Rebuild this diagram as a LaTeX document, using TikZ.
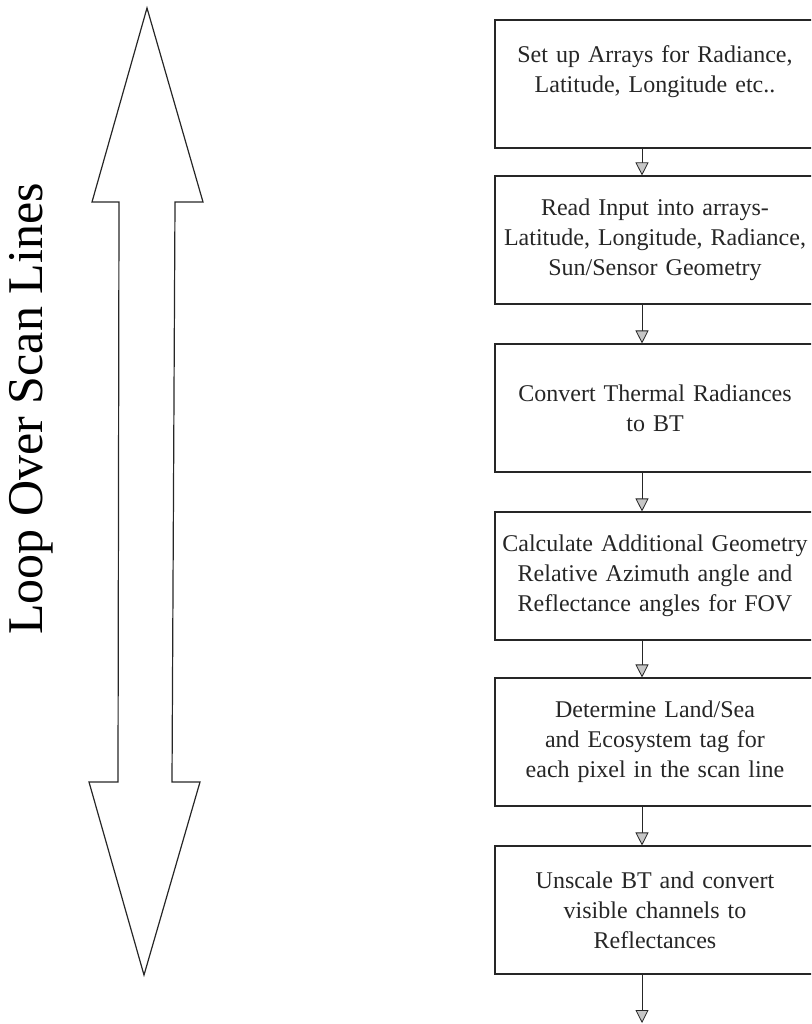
\documentclass[tikz,border=0pt]{standalone}
\usepackage{fontspec}
\setmainfont{Liberation Serif}
\usetikzlibrary{
    arrows.meta,
    positioning
}
\tikzset{
    % Colors
    line color/.style={black!85},
    %
    % Boxes
    stepbox/.style={draw,line color,line width=1.1pt,minimum width=320pt,minimum height=128pt,
        text width=316pt,align=center,font=\fontsize{24}{30}\selectfont},
    %
    % Arrows
    arrow tip/.tip={Triangle[width=13pt,length=13pt,fill=gray!45]},
    arr/.style={-{arrow tip},line color,line width=0.8pt},
    big arrow/.style={line color,line width=1.2pt,line join=miter}
}
\tikzstyle{every node}=[inner sep=0pt]

\begin{document}
\begin{tikzpicture}[x=1pt,y=-1pt]
    \useasboundingbox (0,0) rectangle (811,1024);
    \clip (0,0) rectangle (811,1024);
    % double arrow
    \draw[big arrow] (147,8) -- (203,202) -- (175,202) -- (172,782) -- (200,782) -- (144,975)
        -- (89,782) -- (118,782) -- (119,202) -- (92,202) -- cycle;
    \node[rotate=90,font=\fontsize{50}{50}\selectfont] (loop) at (31,409) {Loop Over Scan Lines};
    % flow chart
    \coordinate (ax) at (642,0);
    \node[stepbox] (b1) at (655,84) {Set up Arrays for Radiance,\\ Latitude, Longitude etc..\\ \mbox{}};
    \node[stepbox] (b2) at (655,240) {Read Input into arrays-\\ Latitude, Longitude, Radiance,\\ Sun/Sensor Geometry};
    \node[stepbox] (b3) at (655,408) {Convert Thermal Radiances\\ to BT};
    \node[stepbox] (b4) at (655,576) {Calculate Additional Geometry\\ Relative Azimuth angle and\\ Reflectance angles for FOV};
    \node[stepbox] (b5) at (655,742) {Determine Land/Sea\\ and Ecosystem tag for\\ each pixel in the scan line};
    \node[stepbox] (b6) at (655,910) {Unscale BT and convert\\ visible channels to\\ Reflectances};
    \coordinate (end) at (642,1023);
    \foreach \a/\b in {b1/b2,b2/b3,b3/b4,b4/b5,b5/b6}{
        \draw[arr] (\a.south -| ax) -- (\b.north -| ax);
    }
    \draw[arr] (b6.south -| ax) -- (end);
\end{tikzpicture}
\end{document}
